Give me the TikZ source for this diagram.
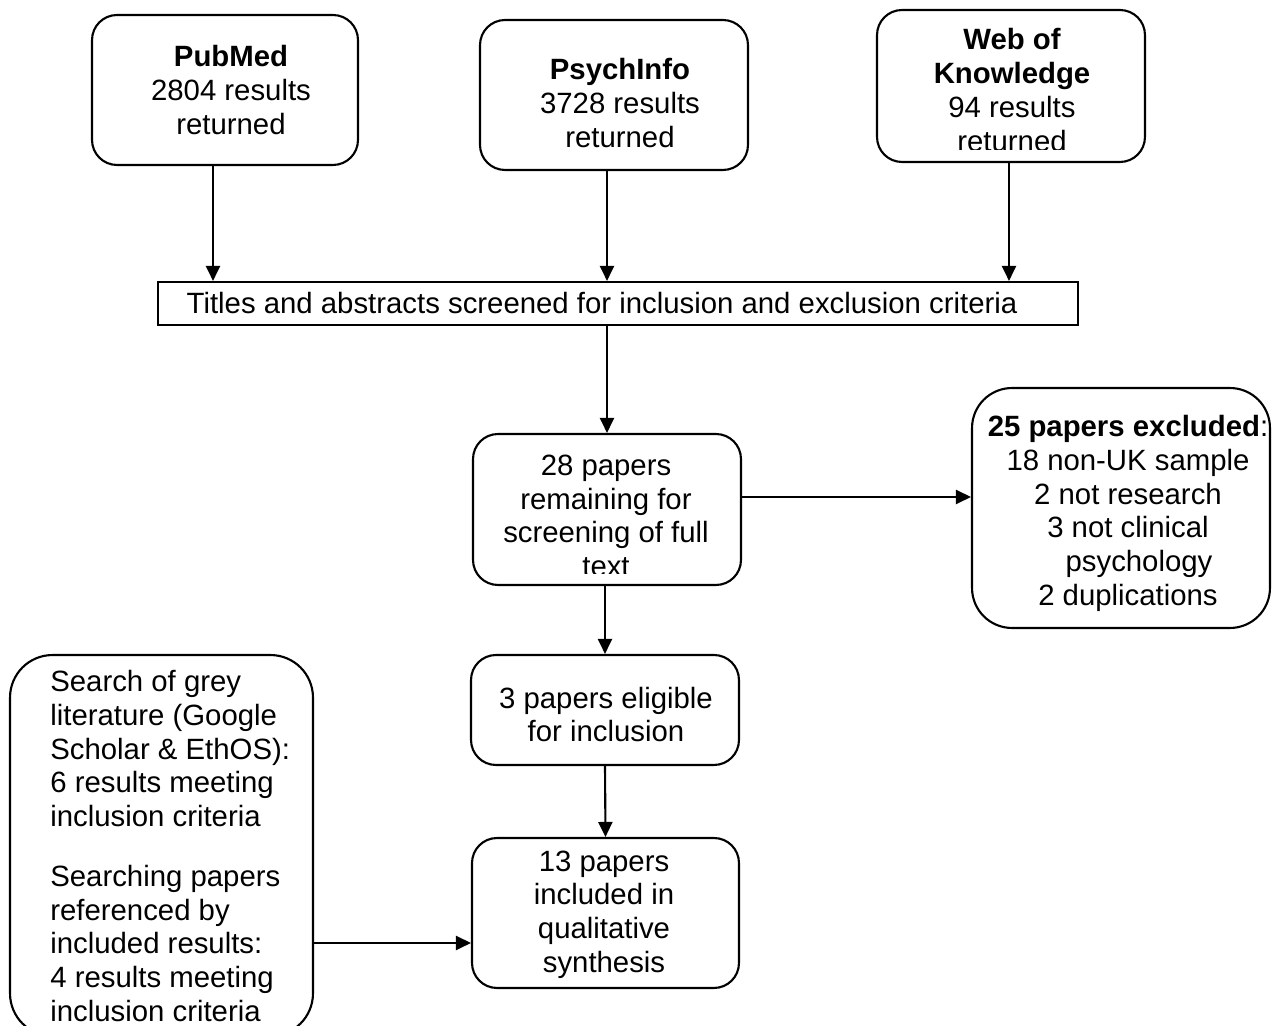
\documentclass[tikz,border=0pt]{standalone}
\usepackage{fontspec}
\setmainfont{Liberation Sans}
\usetikzlibrary{arrows.meta}

\tikzset{
  box/.style={draw,line width=1.2pt,rounded corners=0.5cm,inner sep=0pt},
  txt/.style={align=center,inner sep=0pt,font=\fontsize{16.7}{19.2}\selectfont},
  arr/.style={line width=1.2pt,-{Triangle[length=0.3cm,width=0.28cm]}},
}

\begin{document}
\begin{tikzpicture}[x=0.02cm,y=-0.02cm]
%\draw[step=50,gray,very thin] (0,0) grid (1279,1026); %background grid
\useasboundingbox (0,0) rectangle (1279,1026);

% databases
\node[box,minimum width=5.32cm,minimum height=3cm] (pubmed) at (225,90) {};
\node[box,minimum width=5.36cm,minimum height=3cm] (psych) at (614,95) {};
\node[box,minimum width=5.36cm,minimum height=3.04cm] (wok) at (1011,86) {};
\node[txt] (pubmedtxt) at (231,90) {\textbf{PubMed}\\2804 results\\returned};
\node[txt] (psychtxt) at (620,103) {\textbf{PsychInfo}\\3728 results\\returned};
\begin{scope}
\clip (wok.north west) rectangle ([yshift=0.28cm]wok.south east);
\node[txt] (woktxt) at (1012,90) {\textbf{Web of}\\\textbf{Knowledge}\\94 results\\returned};
\end{scope}

% screening
\node[draw,line width=1.2pt,minimum width=18.4cm,minimum height=0.86cm,inner sep=0pt] (titles) at (618,303.5) {};
\node[txt] (titlestxt) at (602,303) {Titles and abstracts screened for inclusion and exclusion criteria};

\node[box,minimum width=5.36cm,minimum height=3.02cm] (p28) at (607,509.5) {};
\begin{scope}
\clip (p28.north west) rectangle ([yshift=0.26cm]p28.south east);
\node[txt] (p28txt) at (606,516) {28 papers\\remaining for\\screening of full\\text};
\end{scope}

\node[box,rounded corners=0.8cm,minimum width=5.96cm,minimum height=4.8cm] (excl) at (1121,508) {};
\node[txt] (excltxt) at (1128,513.5) {\textbf{25 papers excluded}:\\18 non-UK sample\\2 not research\\3 not clinical\\\hspace*{0.44cm}psychology\\2 duplications};

\node[box,minimum width=5.36cm,minimum height=2.2cm] (p3) at (605,710) {};
\node[txt] (p3txt) at (606,714.5) {3 papers eligible\\for inclusion};

\node[box,minimum width=5.34cm,minimum height=3cm] (p13) at (605.5,913) {};
\node[txt] (p13txt) at (604,914.5) {13 papers\\included in\\qualitative\\synthesis};

\node[box,rounded corners=0.85cm,minimum width=6.06cm,minimum height=7.62cm] (grey) at (161.5,845.5) {};
\node[txt,align=left,anchor=west] (greytxt) at (50,846) {Search of grey\\literature (Google\\Scholar \& EthOS):\\6 results meeting\\inclusion criteria\\[0.52cm]Searching papers\\referenced by\\included results:\\4 results meeting\\inclusion criteria};

% arrows
\draw[arr] ([xshift=-0.24cm]pubmed.south) -- ([xshift=-0.24cm]pubmed.south |- titles.north);
\draw[arr] ([xshift=-0.14cm]psych.south) -- ([xshift=-0.14cm]psych.south |- titles.north);
\draw[arr] ([xshift=-0.04cm]wok.south) -- ([xshift=-0.04cm]wok.south |- titles.north);
\draw[arr] (titles.south -| p28.north) -- (p28.north);
\draw[arr] ([yshift=0.25cm]p28.east) -- ([yshift=0.25cm]p28.east -| excl.west);
\draw[arr] (p28.south -| p3.north) -- (p3.north);
\draw[arr] (p3.south) -- (p13.north);
\draw[arr] ([yshift=-0.6cm]p13.west -| grey.east) -- ([yshift=-0.6cm]p13.west);

\end{tikzpicture}
\end{document}
